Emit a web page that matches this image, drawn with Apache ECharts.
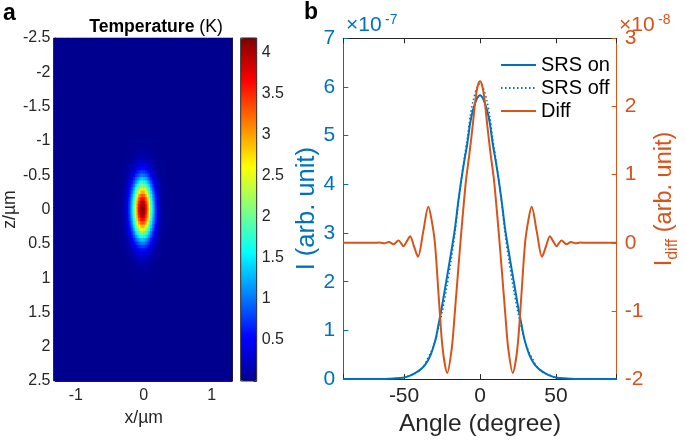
<!DOCTYPE html>
<html><head><meta charset="utf-8">
<script src="https://cdn.jsdelivr.net/npm/echarts@6/dist/echarts.min.js"></script>
<style>html,body{margin:0;padding:0;background:#fff}#c{width:685px;height:442px}</style>
</head><body><div id="c"></div><script>
// ---------- Panel a: temperature map (profiles read through the spot centre, K) ----------
const tempXPos = [-0.4,-0.375,-0.35,-0.325,-0.3,-0.275,-0.25,-0.225,-0.2,-0.175,-0.15,-0.125,-0.1,-0.075,-0.05,-0.025,0,0.025,0.05,0.075,0.1,0.125,0.15,0.175,0.2,0.225,0.25,0.275,0.3,0.325,0.35,0.375,0.4];
const tempAlongX = [0,0.007,0.016,0.035,0.07,0.13,0.24,0.42,0.68,1.04,1.50,2.04,2.64,3.22,3.71,4.03,4.15,4.03,3.71,3.22,2.64,2.04,1.50,1.04,0.68,0.42,0.24,0.13,0.07,0.035,0.016,0.007,0];
const tempZPos = [-1.1,-1.05,-1,-0.95,-0.9,-0.85,-0.8,-0.75,-0.7,-0.65,-0.6,-0.55,-0.5,-0.45,-0.4,-0.35,-0.3,-0.25,-0.2,-0.15,-0.1,-0.05,0,0.05,0.1,0.15,0.2,0.25,0.3,0.35,0.4,0.45,0.5,0.55,0.6,0.65,0.7,0.75,0.8,0.85,0.9,0.95,1,1.05,1.1];
const tempAlongZ = [0,0.009,0.016,0.027,0.046,0.075,0.12,0.18,0.27,0.40,0.56,0.77,1.03,1.35,1.71,2.10,2.52,2.93,3.32,3.66,3.93,4.09,4.15,4.09,3.93,3.66,3.32,2.93,2.52,2.10,1.71,1.35,1.03,0.77,0.56,0.40,0.27,0.18,0.12,0.075,0.046,0.027,0.016,0.009,0];
const colorbarTicks = [0.5,1,1.5,2,2.5,3,3.5,4];
const colorbarMax = 4.18;

// ---------- Panel b: SRS on / off (x1e-7) and Diff (x1e-8) ----------
const angleOnOff = [-90,-65,-60,-55,-50,-46,-42.5,-39.5,-37,-34.7,-32.5,-30.8,-29,-27.5,-25,-22,-19,-16.6,-14.5,-12.5,-10.5,-8.3,-6.5,-4.6,-2,0,2,4.6,6.5,8.3,10.5,12.5,14.5,16.6,19,22,25,27.5,29,30.8,32.5,34.7,37,39.5,42.5,46,50,55,60,65,90];
const srsOn  = [0,0,0.005,0.015,0.035,0.07,0.13,0.19,0.26,0.36,0.5,0.65,0.85,1.09,1.5,2.05,2.6,3.07,3.6,4.05,4.45,4.85,5.25,5.53,5.76,5.83,5.76,5.53,5.25,4.85,4.45,4.05,3.6,3.07,2.6,2.05,1.5,1.09,0.85,0.65,0.5,0.36,0.26,0.19,0.13,0.07,0.035,0.015,0.005,0,0];
const srsOff = [0,0,0.005,0.015,0.03,0.08,0.12,0.18,0.27,0.41,0.54,0.67,0.83,1.03,1.36,1.86,2.44,2.97,3.55,4.06,4.51,4.96,5.39,5.71,5.99,6.07,5.99,5.71,5.39,4.96,4.51,4.06,3.55,2.97,2.44,1.86,1.36,1.03,0.83,0.67,0.54,0.41,0.27,0.18,0.12,0.08,0.03,0.015,0.005,0,0];
const angleDiff = [-90,-70,-66,-63,-60,-56.9,-53.7,-52,-50.4,-48.2,-46,-43.5,-40.8,-37.4,-34,-32,-29.7,-27,-24.6,-21.6,-18.6,-16.6,-12.9,-9.4,-7,-4.9,-3,-1.5,0,1.5,3,4.9,7,9.4,12.9,16.6,18.6,21.6,24.6,27,29.7,32,34,37.4,40.8,43.5,46,48.2,50.4,52,53.7,56.9,60,63,66,70,90];
const srsDiff = [0,0,0.004,-0.008,0.012,-0.02,0.034,-0.005,-0.05,0.02,0.097,-0.05,-0.205,0.16,0.527,0.35,0,-0.85,-1.55,-1.91,-1.55,-1.03,0,0.88,1.3,1.7,2.1,2.3,2.37,2.3,2.1,1.7,1.3,0.88,0,-1.03,-1.55,-1.91,-1.55,-0.85,0,0.35,0.527,0.16,-0.205,-0.05,0.097,0.02,-0.05,-0.005,0.034,-0.02,0.012,-0.008,0.004,0,0];
const seriesNames = ['SRS on','SRS off','Diff'];

// ---------- styles ----------
const FONT = '"Liberation Sans", Arial, Helvetica, sans-serif';
const BLUE = '#0072BD', ORANGE = '#D95319', INK = '#262626';
const JET = ['#00008F','#0000FF','#0080FF','#00FFFF','#80FF80','#FFFF00','#FF8000','#FF0000','#800000'];

// ---------- heatmap table built from the profiles ----------
const xCats = [], zCats = [];
for (let i = 0; i <= 104; i++) xCats.push(Math.round((-1.3 + i * 0.025) * 1000) / 1000);
for (let j = 0; j <= 100; j++) zCats.push(Math.round((-2.5 + j * 0.05) * 1000) / 1000);
const xMap = new Map(tempXPos.map((p, k) => [Math.round(p * 1000), tempAlongX[k]]));
const zMap = new Map(tempZPos.map((p, k) => [Math.round(p * 1000), tempAlongZ[k]]));
const peakT = Math.max(...tempAlongX);
const heat = [];
xCats.forEach((x, i) => {
  const tx = xMap.get(Math.round(x * 1000));
  zCats.forEach((z, j) => {
    const tz = zMap.get(Math.round(z * 1000));
    heat.push([i, j, (tx !== undefined && tz !== undefined) ? tx * tz / peakT : 0]);
  });
});

const pair = (xs, ys) => xs.map((x, i) => [x, ys[i]]);
const onlyMult = (m) => (v) => (Math.abs(v / m - Math.round(v / m)) < 1e-6 ? String(v) : '');

const inkLine = { show: true, onZero: false, lineStyle: { color: INK, width: 1 } };
const inkTick = (len) => ({ show: true, inside: true, length: len, lineStyle: { color: INK, width: 1 } });

const option = {
  animation: false,
  textStyle: { fontFamily: FONT },
  grid: [
    { left: 53.5, top: 38, width: 178.5, height: 343, show: true, backgroundColor: JET[0], borderWidth: 0 },
    { left: 53.5, top: 38, width: 178.5, height: 343 },
    { left: 240.7, top: 38, width: 16, height: 343, show: true, borderColor: INK, borderWidth: 1, z: 10, backgroundColor: 'transparent' },
    { left: 343.3, top: 38.3, width: 273.4, height: 341.7 }
  ],
  xAxis: [
    { gridIndex: 0, type: 'category', data: xCats, show: false },
    { gridIndex: 1, type: 'value', min: -1.3, max: 1.3, splitNumber: 2, position: 'bottom',
      axisLine: inkLine, axisTick: inkTick(4), splitLine: { show: false },
      axisLabel: { fontSize: 16, color: INK, margin: 7, formatter: onlyMult(1) },
      name: 'x/µm', nameLocation: 'middle', nameGap: 26, nameTextStyle: { fontSize: 17.6, color: INK } },
    { gridIndex: 1, type: 'value', min: -1.3, max: 1.3, splitNumber: 2, position: 'top',
      axisLine: inkLine, axisTick: inkTick(4), splitLine: { show: false }, axisLabel: { show: false } },
    { gridIndex: 2, type: 'value', min: 0, max: 1, show: false },
    { gridIndex: 3, type: 'value', min: -90, max: 90, splitNumber: 3, position: 'bottom',
      axisLine: inkLine, axisTick: inkTick(5), splitLine: { show: false },
      axisLabel: { fontSize: 21, color: INK, margin: 7, formatter: onlyMult(50) },
      name: 'Angle (degree)', nameLocation: 'middle', nameGap: 29, nameTextStyle: { fontSize: 24.5, color: INK } },
    { gridIndex: 3, type: 'value', min: -90, max: 90, splitNumber: 3, position: 'top',
      axisLine: inkLine, axisTick: inkTick(5), splitLine: { show: false }, axisLabel: { show: false } }
  ],
  yAxis: [
    { gridIndex: 0, type: 'category', data: zCats, inverse: true, show: false },
    { gridIndex: 1, type: 'value', min: -2.5, max: 2.5, interval: 0.5, inverse: true, position: 'left',
      axisLine: inkLine, axisTick: inkTick(4), splitLine: { show: false },
      axisLabel: { fontSize: 16, color: INK, margin: 5 },
      name: 'z/µm', nameLocation: 'middle', nameRotate: 90, nameGap: 36, nameTextStyle: { fontSize: 17.6, color: INK } },
    { gridIndex: 1, type: 'value', min: -2.5, max: 2.5, interval: 0.5, inverse: true, position: 'right',
      axisLine: inkLine, axisTick: inkTick(4), splitLine: { show: false }, axisLabel: { show: false } },
    { gridIndex: 2, type: 'value', min: 0, max: colorbarMax, interval: 0.5, position: 'right',
      axisLine: { show: false, onZero: false }, axisTick: inkTick(3), splitLine: { show: false },
      axisLabel: { fontSize: 16, color: INK, margin: 5,
        formatter: (v) => (colorbarTicks.some(t => Math.abs(t - v) < 1e-6) ? String(v) : '') } },
    { gridIndex: 3, type: 'value', min: 0, max: 7, interval: 1, position: 'left',
      axisLine: { show: true, onZero: false, lineStyle: { color: BLUE, width: 1 } },
      axisTick: { show: true, inside: true, length: 5, lineStyle: { color: BLUE } }, splitLine: { show: false },
      axisLabel: { fontSize: 21, color: BLUE, margin: 8 },
      name: 'I (arb. unit)', nameLocation: 'middle', nameRotate: 90, nameGap: 21,
      nameTextStyle: { fontSize: 25.5, color: BLUE } },
    { gridIndex: 3, type: 'value', min: -2, max: 3, interval: 1, position: 'right',
      axisLine: { show: true, onZero: false, lineStyle: { color: ORANGE, width: 1 } },
      axisTick: { show: true, inside: true, length: 5, lineStyle: { color: ORANGE } }, splitLine: { show: false },
      axisLabel: { fontSize: 21, color: ORANGE, margin: 8 } }
  ],
  visualMap: {
    type: 'continuous', min: 0, max: colorbarMax, seriesIndex: 0, calculable: false, hoverLink: false,
    inRange: { color: JET }, left: 240.7, top: 38, itemWidth: 16, itemHeight: 343, padding: 0,
    orient: 'vertical', showLabel: false
  },
  legend: {
    data: seriesNames, orient: 'vertical', left: 495, top: 50, itemWidth: 35, itemHeight: 14, itemGap: 3,
    selectedMode: false, textStyle: { fontSize: 20, color: '#000', fontFamily: FONT },
    itemStyle: { opacity: 0, color: 'rgba(0,0,0,0)', borderWidth: 0 }
  },
  series: [
    { type: 'heatmap', xAxisIndex: 0, yAxisIndex: 0, data: heat, progressive: 0,
      itemStyle: { borderWidth: 0 }, emphasis: { disabled: true } },
    { name: seriesNames[0], type: 'line', xAxisIndex: 4, yAxisIndex: 4, data: pair(angleOnOff, srsOn),
      symbol: 'none', smooth: 0.3, lineStyle: { color: BLUE, width: 2 }, itemStyle: { color: BLUE }, silent: true },
    { name: seriesNames[1], type: 'line', xAxisIndex: 4, yAxisIndex: 4, data: pair(angleOnOff, srsOff),
      symbol: 'none', smooth: 0.3, lineStyle: { color: BLUE, width: 1.5, type: [1.5, 2.5] }, itemStyle: { color: BLUE }, silent: true },
    { name: seriesNames[2], type: 'line', xAxisIndex: 4, yAxisIndex: 5, data: pair(angleDiff, srsDiff),
      symbol: 'none', smooth: 0.3, lineStyle: { color: ORANGE, width: 2 }, itemStyle: { color: ORANGE }, silent: true }
  ],
  graphic: [
    { type: 'text', x: 3, y: 2, style: { text: 'a', font: 'bold 23px ' + FONT, fill: '#000' } },
    { type: 'text', x: 304, y: 1, style: { text: 'b', font: 'bold 23px ' + FONT, fill: '#000' } },
    { type: 'text', x: 156, y: 27, style: { text: '{b|Temperature} (K)', fontSize: 17.6, fontFamily: FONT, fill: '#000',
        align: 'center', verticalAlign: 'middle', textAlign: 'center', textVerticalAlign: 'middle',
        rich: { b: { fontSize: 17.6, fontFamily: FONT, fontWeight: 'bold', fill: '#000' } } } },
    { type: 'text', x: 346, y: 36, style: { text: '×10', font: '21px ' + FONT, fill: BLUE, verticalAlign: 'bottom', textVerticalAlign: 'bottom' } },
    { type: 'text', x: 385, y: 27, style: { text: '-7', font: '14px ' + FONT, fill: BLUE, verticalAlign: 'bottom', textVerticalAlign: 'bottom' } },
    { type: 'text', x: 619, y: 36, style: { text: '×10', font: '21px ' + FONT, fill: ORANGE, verticalAlign: 'bottom', textVerticalAlign: 'bottom' } },
    { type: 'text', x: 658, y: 27, style: { text: '-8', font: '14px ' + FONT, fill: ORANGE, verticalAlign: 'bottom', textVerticalAlign: 'bottom' } },
    { type: 'text', x: 667, y: 199, rotation: Math.PI / 2,
      style: { text: '{m|I}{s|diff}{m| (arb. unit)}', fontSize: 23.5, fontFamily: FONT, fill: ORANGE,
        align: 'center', verticalAlign: 'middle', textAlign: 'center', textVerticalAlign: 'middle',
        rich: { m: { fontSize: 23.5, fontFamily: FONT, fill: ORANGE, verticalAlign: 'top' },
                s: { fontSize: 16, fontFamily: FONT, fill: ORANGE, verticalAlign: 'bottom', padding: [12, 0, 0, 0] } } } }
  ]
};
const chart = echarts.init(document.getElementById('c'), null, { renderer: 'canvas' });
chart.setOption(option);
</script></body></html>
